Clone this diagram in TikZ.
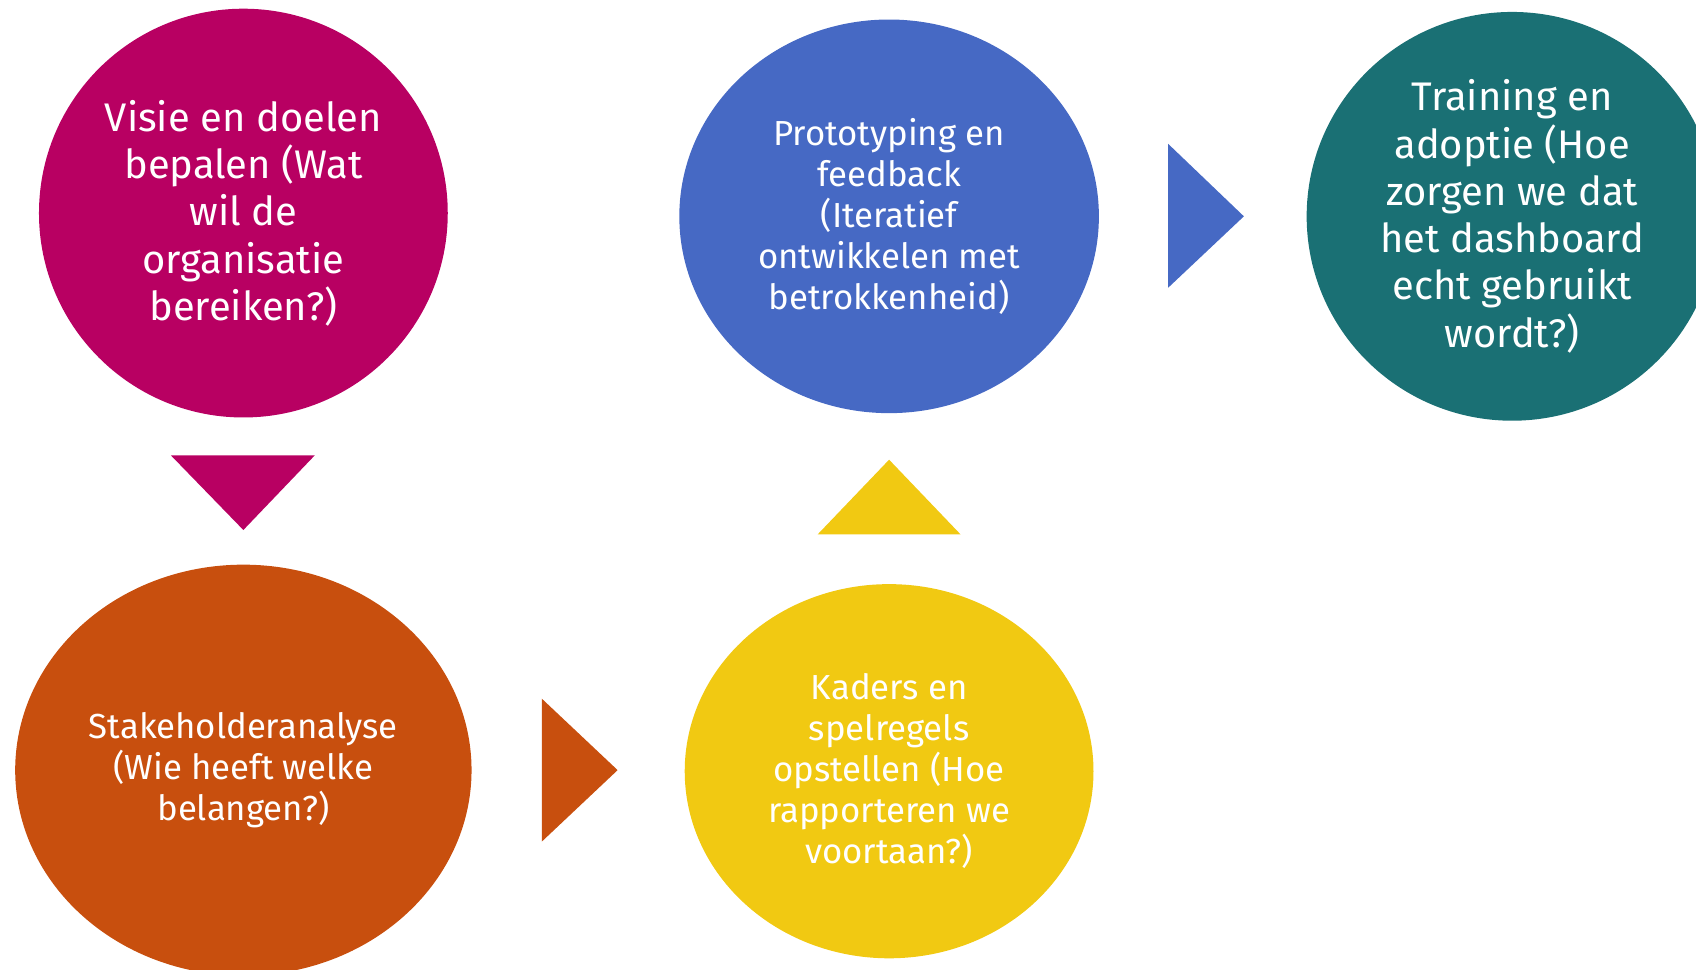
\documentclass[tikz,border=0pt]{standalone}
\usepackage{fontspec}
\setmainfont{Fira Sans}
\usetikzlibrary{shapes.geometric}
\definecolor{cmag}{HTML}{B80062}
\definecolor{cblue}{HTML}{4669C4}
\definecolor{cteal}{HTML}{1A7074}
\definecolor{corange}{HTML}{C84F0E}
\definecolor{cyellow}{HTML}{F1C912}
\begin{document}
\begin{tikzpicture}[x=0.02cm,y=-0.02cm,
  blob/.style={ellipse, inner sep=0pt, text=white, align=center},
  bigtxt/.style={font=\fontsize{21}{24.9}\selectfont},
  smalltxt/.style={font=\fontsize{18.3}{21.6}\selectfont}]
\useasboundingbox (0,0) rectangle (1568,896);
\clip (0,0) rectangle (1568,896);
\node[blob,bigtxt,fill=cmag,minimum width=7.56cm,minimum height=7.56cm] (visie) at (225,197)
  {Visie en doelen\\bepalen (Wat\\wil de\\organisatie\\bereiken?)};
\node[blob,smalltxt,fill=cblue,minimum width=7.76cm,minimum height=7.28cm] (proto) at (822,200)
  {Prototyping en\\feedback\\(Iteratief\\ontwikkelen met\\betrokkenheid)};
\node[blob,bigtxt,fill=cteal,minimum width=7.6cm,minimum height=7.56cm] (training) at (1398,200)
  {Training en\\adoptie (Hoe\\zorgen we dat\\het dashboard\\echt gebruikt\\wordt?)};
\node[blob,smalltxt,fill=corange,minimum width=8.44cm,minimum height=7.6cm] (stake) at (225,712)
  {Stakeholderanalyse\\(Wie heeft welke\\belangen?)};
\node[blob,smalltxt,fill=cyellow,minimum width=7.56cm,minimum height=6.92cm] (kaders) at (822,713)
  {Kaders en\\spelregels\\opstellen (Hoe\\rapporteren we\\voortaan?)};
\fill[cmag] (158,421) -- (291,421) -- (225,490) -- cycle;
\fill[cyellow] (756,494) -- (888,494) -- (822,425) -- cycle;
\fill[corange] (501,646) -- (501,778) -- (571,712) -- cycle;
\fill[cblue] (1080,133) -- (1080,266) -- (1150,200) -- cycle;
\end{tikzpicture}
\end{document}
